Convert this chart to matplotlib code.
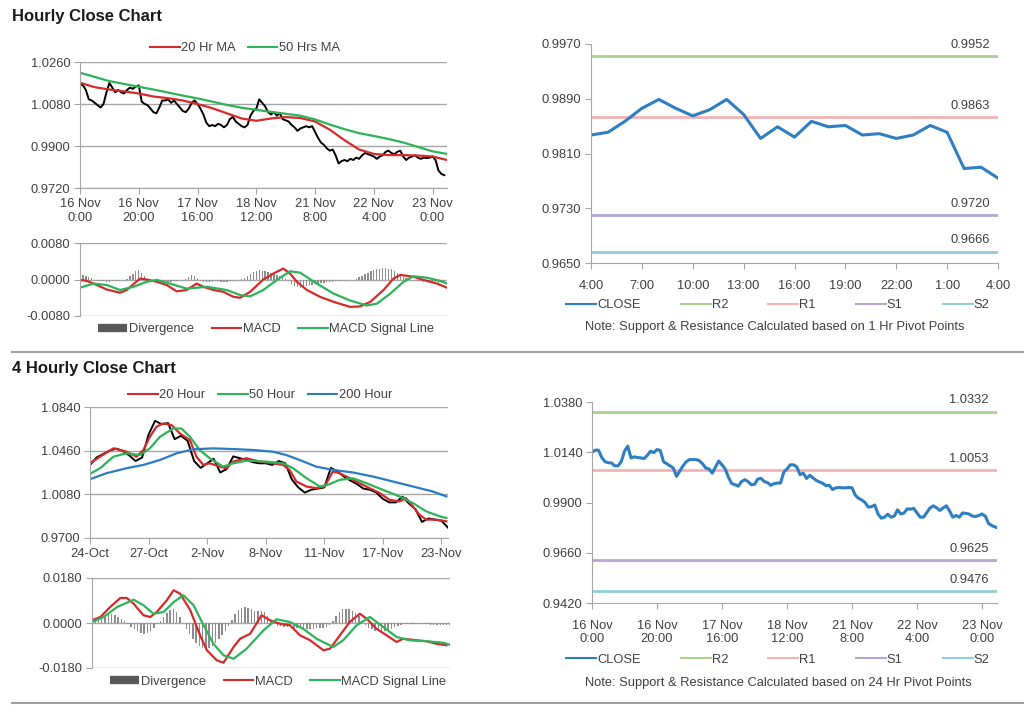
import matplotlib
matplotlib.use('Agg')
import matplotlib.pyplot as plt
from matplotlib.lines import Line2D

plt.rcParams['font.family'] = ['Liberation Sans', 'DejaVu Sans']
plt.rcParams['font.size'] = 9

# ---------------- data: hourly chart (top) ----------------
hourly_ticks = [0, 20, 40, 60, 80, 100, 120]
hourly_labels = ['16 Nov\n0:00', '16 Nov\n20:00', '17 Nov\n16:00', '18 Nov\n12:00',
                 '21 Nov\n8:00', '22 Nov\n4:00', '23 Nov\n0:00']

hourly_close = [
    1.0165, 1.0160, 1.0140, 1.0100, 1.0095, 1.0085, 1.0075, 1.0065, 1.0080, 1.0130,
    1.0170, 1.0150, 1.0130, 1.0140, 1.0130, 1.0125, 1.0140, 1.0150, 1.0145, 1.0155,
    1.0160, 1.0090, 1.0080, 1.0075, 1.0060, 1.0045, 1.0040, 1.0065, 1.0095, 1.0095,
    1.0100, 1.0085, 1.0095, 1.0080, 1.0065, 1.0050, 1.0045, 1.0060, 1.0085, 1.0095,
    1.0080, 1.0060, 1.0035, 1.0000, 0.9985, 0.9990, 0.9985, 0.9995, 0.9990, 0.9980,
    0.9990, 1.0015, 1.0025, 1.0005, 0.9995, 0.9985, 0.9980, 0.9990, 1.0030, 1.0050,
    1.0060, 1.0100, 1.0085, 1.0070, 1.0045, 1.0035, 1.0045, 1.0030, 1.0040, 1.0015,
    1.0010, 1.0005, 0.9990, 0.9980, 0.9965, 0.9975, 0.9980, 0.9985, 0.9980, 0.9985,
    0.9960, 0.9935, 0.9915, 0.9905, 0.9890, 0.9880, 0.9885, 0.9860, 0.9825, 0.9835,
    0.9840, 0.9835, 0.9845, 0.9840, 0.9850, 0.9845, 0.9860, 0.9870, 0.9865, 0.9860,
    0.9855, 0.9845, 0.9855, 0.9860, 0.9875, 0.9880, 0.9870, 0.9865, 0.9875, 0.9880,
    0.9855, 0.9840, 0.9850, 0.9855, 0.9860, 0.9850, 0.9845, 0.9850, 0.9848, 0.9850,
    0.9855, 0.9840, 0.9795, 0.9780, 0.9775]

ma_hours = [0, 5, 10, 15, 20, 25, 30, 35, 40, 45, 50, 55, 60, 65, 70, 75, 80, 85,
            90, 95, 100, 105, 110, 115, 120, 124.9]
ma20_hourly = [1.0171, 1.0152, 1.0142, 1.0134, 1.0125, 1.0112, 1.0105, 1.0095, 1.0080,
               1.0062, 1.0040, 1.0018, 1.0008, 1.0018, 1.0024, 1.0020, 1.0005, 0.9970,
               0.9925, 0.9885, 0.9866, 0.9861, 0.9861, 0.9859, 0.9855, 0.9840]
ma50_hourly = [1.0214, 1.0196, 1.0178, 1.0166, 1.0154, 1.0142, 1.0129, 1.0116, 1.0104,
               1.0090, 1.0076, 1.0064, 1.0055, 1.0046, 1.0038, 1.0030, 1.0014, 0.9992,
               0.9972, 0.9955, 0.9943, 0.9930, 0.9915, 0.9896, 0.9877, 0.9866]

div_hourly = [
    0.0008, 0.0009, 0.0007, 0.0005, 0.0004,
    -0.0002, -0.0003, -0.0004, -0.0004, -0.0005, -0.0005, -0.0004, -0.0004, -0.0003,
    -0.0002, -0.0001, 0.0002,
    0.0008, 0.0012, 0.0018, 0.0020, 0.0015, 0.0008,
    0.0002, -0.0002, -0.0004, -0.0005, -0.0006, -0.0007, -0.0006, -0.0005, -0.0005,
    -0.0004, -0.0003, -0.0002, -0.0001, 0.0002, 0.0005,
    0.0009, 0.0008, 0.0004,
    -0.0003, -0.0005, -0.0006, -0.0006, -0.0005, -0.0004, -0.0004, -0.0005, -0.0006,
    -0.0005, -0.0004, -0.0003, -0.0002, 0.0000, 0.0002, 0.0004,
    0.0008, 0.0013, 0.0017, 0.0019, 0.0020, 0.0019, 0.0018, 0.0016, 0.0014, 0.0012,
    0.0010, 0.0008, 0.0005, 0.0001,
    -0.0004, -0.0010, -0.0014, -0.0017, -0.0018, -0.0016, -0.0014, -0.0012, -0.0011,
    -0.0010, -0.0009, -0.0008, -0.0007, -0.0006,
    -0.0005, -0.0005, -0.0004, -0.0004, -0.0003, -0.0003, -0.0002, -0.0001, 0.0000,
    0.0002, 0.0005, 0.0008,
    0.0012, 0.0015, 0.0018, 0.0021, 0.0023, 0.0024, 0.0025, 0.0025, 0.0024, 0.0022,
    0.0019, 0.0015, 0.0010,
    0.0006, 0.0003, 0.0001, -0.0001, -0.0002, -0.0003, -0.0004, -0.0005, -0.0005,
    -0.0006, -0.0006, -0.0006, -0.0007, -0.0007, -0.0007]

macd_h_x = [0, 2.3, 5.7, 9.1, 13.6, 15.9, 20.4, 22.7, 26.1, 29.5, 32.9, 36.3, 39.7, 42,
            45.4, 48.8, 52.2, 54.5, 57.9, 62.4, 65.8, 69.2, 71.5, 73.8, 77.2, 81.7, 86.3,
            91.9, 95.3, 98.8, 103.3, 106.7, 109, 113.5, 116.9, 121.5, 124.9]
macd_h = [-0.0001, -0.0003, -0.0012, -0.0022, -0.0029, -0.0023, 0.0002, 0.0000, -0.0005,
          -0.0012, -0.0026, -0.0023, -0.0009, -0.0016, -0.0023, -0.0027, -0.0038, -0.0040,
          -0.0027, 0.0000, 0.0013, 0.0024, 0.0013, -0.0005, -0.0023, -0.0038, -0.0049,
          -0.0060, -0.0059, -0.0049, -0.0023, 0.0002, 0.0010, 0.0006, -0.0001, -0.0009,
          -0.0018]
signal_h_x = [0, 4.5, 9.1, 13.6, 18.2, 22.7, 26.1, 30.6, 36.3, 43.1, 49.9, 54.5, 57.9,
              62.4, 67, 71.5, 74.9, 80.6, 86.3, 91.9, 97.6, 101, 105.6, 110.1, 113.5, 118,
              122.6, 124.9]
signal_h = [-0.0018, -0.0009, -0.0012, -0.0023, -0.0016, -0.0005, -0.0001, -0.0009,
            -0.0020, -0.0016, -0.0023, -0.0034, -0.0037, -0.0023, -0.0001, 0.0018, 0.0015,
            -0.0009, -0.0031, -0.0046, -0.0057, -0.0053, -0.0031, -0.0005, 0.0007, 0.0004,
            -0.0003, -0.0009]

# 1 hr pivot chart
pivot1_labels = ['4:00', '7:00', '10:00', '13:00', '16:00', '19:00', '22:00', '1:00', '4:00']
pivot1_close = [0.9837, 0.9841, 0.9857, 0.9876, 0.9889, 0.9876, 0.9865, 0.9874, 0.9889,
                0.9867, 0.9832, 0.9849, 0.9834, 0.9857, 0.9849, 0.9851, 0.9837, 0.9839,
                0.9832, 0.9837, 0.9851, 0.9841, 0.9788, 0.9790, 0.9774]
pivot1_levels = {'R2': 0.9952, 'R1': 0.9863, 'S1': 0.9720, 'S2': 0.9666}

# ---------------- data: 4 hourly chart (bottom) ----------------
four_ticks = [0, 18, 36, 54, 72, 90, 108]
four_labels = ['24-Oct', '27-Oct', '2-Nov', '8-Nov', '11-Nov', '17-Nov', '23-Nov']

four_close = [
    1.0336, 1.0400, 1.0430, 1.0460, 1.0478, 1.0460, 1.0420, 1.0370, 1.0400, 1.0600,
    1.0720, 1.0690, 1.0700, 1.0560, 1.0590, 1.0545, 1.0370, 1.0310, 1.0350, 1.0390,
    1.0270, 1.0300, 1.0410, 1.0395, 1.0380, 1.0360, 1.0350, 1.0350, 1.0336, 1.0370,
    1.0350, 1.0210, 1.0140, 1.0095, 1.0120, 1.0130, 1.0140, 1.0310, 1.0280, 1.0235,
    1.0200, 1.0170, 1.0130, 1.0120, 1.0095, 1.0040, 1.0010, 1.0010, 1.0060, 1.0000,
    0.9950, 0.9840, 0.9870, 0.9860, 0.9850, 0.9790]

ma20_x = [0, 3.1, 7.2, 11.2, 14.3, 16.4, 18.4, 20.4, 22.5, 25.1, 27.6, 30.7, 32.7, 34.8,
          36.8, 39.9, 41.9, 44, 48.1, 52.1, 56.2, 59.3, 61.3, 63.4, 66.5, 69.5, 72.1,
          74.6, 76.7, 79.8, 82.8, 85.9, 89, 92, 95.1, 97.1, 99.2, 101.2, 103.3, 106.3, 109.5]
ma20_4h = [1.0350, 1.0408, 1.0480, 1.0451, 1.0408, 1.0466, 1.0581, 1.0668, 1.0697, 1.0682,
           1.0610, 1.0552, 1.0408, 1.0336, 1.0350, 1.0321, 1.0307, 1.0365, 1.0394, 1.0365,
           1.0350, 1.0336, 1.0293, 1.0192, 1.0148, 1.0134, 1.0148, 1.0278, 1.0264, 1.0220,
           1.0177, 1.0134, 1.0091, 1.0033, 1.0018, 1.0047, 0.9975, 0.9903, 0.9860, 0.9860,
           0.9845]
ma50_x = [0, 3.1, 7.2, 11.2, 15.3, 18.4, 21.5, 25.6, 28.1, 30.7, 33.7, 36.8, 40.9, 44,
          48.1, 54.2, 59.3, 62.4, 66.5, 70.6, 73.1, 76.7, 80.8, 84.9, 90, 95.1, 99.2,
          103.3, 107.4, 109.5]
ma50_4h = [1.0258, 1.0307, 1.0408, 1.0437, 1.0422, 1.0480, 1.0581, 1.0653, 1.0653, 1.0581,
           1.0466, 1.0394, 1.0321, 1.0350, 1.0373, 1.0365, 1.0350, 1.0307, 1.0221, 1.0148,
           1.0163, 1.0206, 1.0220, 1.0177, 1.0119, 1.0062, 1.0004, 0.9932, 0.9889, 0.9874]
ma200_x = [0, 5.1, 11.2, 16.4, 21.5, 26.6, 31.7, 37.8, 44, 50.1, 56.2, 60.3, 64.4, 69.5,
           74.6, 80.8, 86.9, 93, 99.2, 105.3, 109.5]
ma200_4h = [1.0212, 1.0264, 1.0307, 1.0336, 1.0379, 1.0437, 1.0472, 1.0480, 1.0474, 1.0466,
            1.0451, 1.0422, 1.0379, 1.0321, 1.0293, 1.0270, 1.0235, 1.0192, 1.0148, 1.0105,
            1.0062]

div_4h = [
    0.0005, 0.0012, 0.0018, 0.0024, 0.0030, 0.0035, 0.0037, 0.0033, 0.0026, 0.0018, 0.0008,
    -0.0005, -0.0015, -0.0025, -0.0033, -0.0040, -0.0042, -0.0038, -0.0030, -0.0018, -0.0005,
    0.0010, 0.0025, 0.0040, 0.0052, 0.0057, 0.0045, 0.0025,
    0.0000, -0.0025, -0.0045, -0.0062, -0.0078, -0.0090, -0.0100, -0.0103, -0.0098, -0.0090,
    -0.0080, -0.0065, -0.0048, -0.0030, -0.0010,
    0.0012, 0.0035, 0.0052, 0.0062, 0.0064, 0.0060, 0.0055, 0.0050, 0.0048, 0.0050, 0.0045,
    0.0030, 0.0010,
    -0.0005, -0.0010, -0.0012, -0.0014, -0.0015, -0.0017, -0.0018, -0.0020, -0.0021, -0.0022,
    -0.0022, -0.0023, -0.0022, -0.0021, -0.0020, -0.0018, -0.0014, -0.0008,
    0.0010, 0.0030, 0.0045, 0.0055, 0.0057, 0.0055, 0.0050, 0.0042, 0.0030,
    0.0010, -0.0008, -0.0018, -0.0025, -0.0030, -0.0032, -0.0032, -0.0030, -0.0026, -0.0022,
    -0.0016, -0.0010,
    -0.0006, -0.0004, -0.0003, -0.0002, -0.0003, -0.0004, -0.0004, -0.0005, -0.0005, -0.0006,
    -0.0006, -0.0007, -0.0007, -0.0008, -0.0008, -0.0008]

macd_4_x = [0, 2.6, 5.6, 8.7, 10.7, 12.8, 15.8, 17.9, 19.9, 23, 25.1, 27.1, 30.2, 33.2,
            35.3, 38.3, 40.4, 43.5, 45.5, 48.6, 52.1, 54.7, 57.8, 60.8, 63.9, 67, 71.1,
            73.1, 76.2, 79.2, 82.3, 84.4, 87.4, 90.5, 93.6, 95.6, 99.7, 102.8, 105.8, 108.9]
macd_4 = [0.0011, 0.0024, 0.0064, 0.0100, 0.0100, 0.0077, 0.0031, 0.0024, 0.0044, 0.0091,
          0.0131, 0.0117, 0.0051, -0.0049, -0.0109, -0.0149, -0.0159, -0.0096, -0.0063,
          -0.0043, 0.0031, 0.0011, -0.0003, -0.0009, -0.0049, -0.0069, -0.0109, -0.0103,
          -0.0049, 0.0004, 0.0037, 0.0017, -0.0023, -0.0049, -0.0076, -0.0063, -0.0069,
          -0.0073, -0.0083, -0.0089]
signal_4_x = [0, 3.6, 7.7, 12.8, 15.8, 18.9, 22, 25.1, 28.1, 31.2, 34.3, 37.3, 40.4, 43.5,
              47.5, 52.7, 56.7, 60.8, 64.9, 69, 74.1, 77.2, 81.3, 85.4, 89.5, 93.6, 97.6,
              102.8, 107.9, 109.9]
signal_4 = [0.0004, 0.0024, 0.0064, 0.0093, 0.0071, 0.0037, 0.0044, 0.0084, 0.0111, 0.0071,
            -0.0009, -0.0083, -0.0129, -0.0143, -0.0103, -0.0029, 0.0015, 0.0004, -0.0023,
            -0.0063, -0.0096, -0.0069, -0.0009, 0.0024, -0.0016, -0.0056, -0.0069, -0.0073,
            -0.0079, -0.0087]

# 24 hr pivot chart (hourly closes)
pivot24_close = [
    1.0140, 1.0150, 1.0150, 1.0115, 1.0095, 1.0090, 1.0089, 1.0075, 1.0075, 1.0095,
    1.0145, 1.0169, 1.0113, 1.0118, 1.0115, 1.0113, 1.0110, 1.0125, 1.0145, 1.0138,
    1.0153, 1.0148, 1.0095, 1.0085, 1.0075, 1.0065, 1.0025, 1.0050, 1.0075, 1.0095,
    1.0105, 1.0105, 1.0105, 1.0100, 1.0085, 1.0065, 1.0060, 1.0040, 1.0070, 1.0098,
    1.0080, 1.0060, 1.0020, 0.9990, 0.9985, 0.9978, 1.0000, 1.0009, 1.0000, 0.9985,
    0.9987, 1.0012, 1.0015, 1.0000, 0.9995, 0.9982, 0.9990, 0.9993, 0.9993, 1.0045,
    1.0060, 1.0080, 1.0080, 1.0070, 1.0033, 1.0040, 1.0015, 1.0030, 1.0018, 1.0005,
    0.9998, 0.9992, 0.9980, 0.9982, 0.9962, 0.9970, 0.9972, 0.9970, 0.9970, 0.9972,
    0.9970, 0.9935, 0.9920, 0.9912, 0.9900, 0.9878, 0.9880, 0.9888, 0.9845, 0.9825,
    0.9830, 0.9844, 0.9830, 0.9835, 0.9865, 0.9845, 0.9850, 0.9870, 0.9868, 0.9872,
    0.9850, 0.9830, 0.9830, 0.9852, 0.9874, 0.9884, 0.9875, 0.9862, 0.9874, 0.9884,
    0.9860, 0.9830, 0.9838, 0.9830, 0.9850, 0.9848, 0.9845, 0.9835, 0.9833, 0.9838,
    0.9845, 0.9835, 0.9800, 0.9790, 0.9783, 0.9777]
pivot24_levels = {'R2': 1.0332, 'R1': 1.0053, 'S1': 0.9625, 'S2': 0.9476}

# ---------------- style ----------------
W, H = 1024, 706
TXT = '#404040'
AXC = '#A6A6A6'
RED = '#D42A2A'
GREEN = '#2DB35A'
BLUE = '#2C7CC3'
CLOSE_BLUE = '#2E7EC1'
LEVEL_COLORS = {'R2': '#A9D18E', 'R1': '#F2B3B3', 'S1': '#B7A6D3', 'S2': '#92CDDC'}


def box(left, top, right, bottom):
    return [left / W, 1 - bottom / H, (right - left) / W, (bottom - top) / H]


def style(ax, grid=True):
    ax.spines['top'].set_visible(False)
    ax.spines['right'].set_visible(False)
    ax.spines['left'].set_color(AXC)
    ax.spines['bottom'].set_color(AXC)
    ax.tick_params(colors=AXC, labelcolor=TXT, labelsize=9.3, length=4, pad=3)
    if grid:
        ax.yaxis.grid(True, color=AXC, lw=1)
        ax.set_axisbelow(True)


def fig_legend(fig, handles, labels, cx, cy, spacing):
    fig.legend(handles, labels, loc='center', bbox_to_anchor=(cx / W, 1 - cy / H),
               ncol=len(labels), frameon=False, fontsize=9.3, handlelength=2.3,
               handletextpad=0.1, columnspacing=spacing, labelcolor=TXT,
               borderaxespad=0, borderpad=0)


def line(c, lw=1.5):
    return Line2D([0], [0], color=c, lw=lw)


div_handle = Line2D([0], [0], color='#595959', lw=6, solid_capstyle='butt')

fig = plt.figure(figsize=(10.24, 7.06), dpi=100)

# titles and separators
fig.text(12 / W, 1 - 16 / H, 'Hourly Close Chart', fontsize=12, fontweight='bold',
         va='center', ha='left', color='#1A1A1A')
fig.text(12 / W, 1 - 369 / H, '4 Hourly Close Chart', fontsize=12, fontweight='bold',
         va='center', ha='left', color='#1A1A1A')
for yy in (352, 703):
    fig.add_artist(Line2D([12 / W, 1], [1 - yy / H, 1 - yy / H], color='#A0A0A0', lw=1.5))

# ---- hourly price ----
ax = fig.add_axes(box(80, 62, 447, 188))
style(ax)
ax.plot(range(len(hourly_close)), hourly_close, color='black', lw=1.4)
ax.plot(ma_hours, ma20_hourly, color=RED, lw=1.6)
ax.plot(ma_hours, ma50_hourly, color=GREEN, lw=1.6)
ax.set_xlim(0, 124.9)
ax.set_ylim(0.9720, 1.0260)
ax.set_yticks([0.9720, 0.9900, 1.0080, 1.0260])
ax.set_yticklabels(['%.4f' % v for v in [0.9720, 0.9900, 1.0080, 1.0260]])
ax.set_xticks(hourly_ticks)
ax.set_xticklabels(hourly_labels)
fig_legend(fig, [line(RED), line(GREEN)], ['20 Hr MA', '50 Hrs MA'], 245, 48, 0.9)

# ---- hourly MACD ----
ax = fig.add_axes(box(80, 243, 447, 316))
style(ax)
ax.spines['bottom'].set_visible(False)
ax.bar(range(len(div_hourly)), div_hourly, width=0.45, color='#8C8C8C')
ax.plot(macd_h_x, macd_h, color=RED, lw=1.6)
ax.plot(signal_h_x, signal_h, color=GREEN, lw=1.6)
ax.set_xlim(0, 124.9)
ax.set_ylim(-0.008, 0.008)
ax.set_yticks([-0.008, 0, 0.008])
ax.set_yticklabels(['-0.0080', '0.0000', '0.0080'])
ax.set_xticks([])
fig_legend(fig, [div_handle, line(RED), line(GREEN)],
           ['Divergence', 'MACD', 'MACD Signal Line'], 266, 329, 1.4)

# ---- 1 hr pivot ----
ax = fig.add_axes(box(591, 44, 998, 263))
style(ax, grid=False)
ax.set_xlim(0, 24)
ax.set_ylim(0.9650, 0.9970)
for name, lv in pivot1_levels.items():
    ax.axhline(lv, color=LEVEL_COLORS[name], lw=2)
    ax.annotate('%.4f' % lv, (24, lv), xytext=(-6, 4), textcoords='offset points',
                ha='right', va='bottom', color=TXT, fontsize=9.3)
ax.plot(range(len(pivot1_close)), pivot1_close, color=CLOSE_BLUE, lw=2.2)
ax.set_yticks([0.9650, 0.9730, 0.9810, 0.9890, 0.9970])
ax.set_yticklabels(['%.4f' % v for v in [0.9650, 0.9730, 0.9810, 0.9890, 0.9970]])
ax.set_xticks(range(0, 25, 3))
ax.set_xticklabels(pivot1_labels)
ax.tick_params(axis='x', pad=8)
fig_legend(fig, [line(CLOSE_BLUE)] + [line(LEVEL_COLORS[k]) for k in pivot1_levels],
           ['CLOSE'] + list(pivot1_levels), 778, 305, 3.1)
fig.text(775 / W, 1 - 327 / H, 'Note: Support & Resistance Calculated based on 1 Hr Pivot Points',
         ha='center', va='center', fontsize=9.3, color=TXT)

# ---- 4 hourly price ----
ax = fig.add_axes(box(90, 407, 448, 538))
style(ax)
ax.plot(range(0, 2 * len(four_close), 2), four_close, color='black', lw=1.4)
ax.plot(ma20_x, ma20_4h, color=RED, lw=1.6)
ax.plot(ma50_x, ma50_4h, color=GREEN, lw=1.6)
ax.plot(ma200_x, ma200_4h, color=BLUE, lw=1.6)
ax.set_xlim(0, 110)
ax.set_ylim(0.9700, 1.0840)
ax.set_yticks([0.9700, 1.0080, 1.0460, 1.0840])
ax.set_yticklabels(['%.4f' % v for v in [0.9700, 1.0080, 1.0460, 1.0840]])
ax.set_xticks(four_ticks)
ax.set_xticklabels(four_labels)
fig_legend(fig, [line(RED), line(GREEN), line(BLUE)],
           ['20 Hour', '50 Hour', '200 Hour'], 260, 395, 1.0)

# ---- 4 hourly MACD ----
ax = fig.add_axes(box(92, 578, 450, 668))
style(ax)
ax.spines['bottom'].set_visible(False)
ax.bar(range(len(div_4h)), div_4h, width=0.45, color='#8C8C8C')
ax.plot(macd_4_x, macd_4, color=RED, lw=1.6)
ax.plot(signal_4_x, signal_4, color=GREEN, lw=1.6)
ax.set_xlim(0, 110)
ax.set_ylim(-0.018, 0.018)
ax.set_yticks([-0.018, 0, 0.018])
ax.set_yticklabels(['-0.0180', '0.0000', '0.0180'])
ax.set_xticks([])
fig_legend(fig, [div_handle, line(RED), line(GREEN)],
           ['Divergence', 'MACD', 'MACD Signal Line'], 278, 682, 1.4)

# ---- 24 hr pivot ----
ax = fig.add_axes(box(592, 402, 997, 603))
style(ax, grid=False)
ax.set_xlim(0, 124.6)
ax.set_ylim(0.9420, 1.0380)
for name, lv in pivot24_levels.items():
    ax.axhline(lv, color=LEVEL_COLORS[name], lw=2)
    ax.annotate('%.4f' % lv, (124.6, lv), xytext=(-6, 4), textcoords='offset points',
                ha='right', va='bottom', color=TXT, fontsize=9.3)
ax.plot(range(len(pivot24_close)), pivot24_close, color=CLOSE_BLUE, lw=2.2)
ax.set_yticks([0.9420, 0.9660, 0.9900, 1.0140, 1.0380])
ax.set_yticklabels(['%.4f' % v for v in [0.9420, 0.9660, 0.9900, 1.0140, 1.0380]])
ax.set_xticks(hourly_ticks)
ax.set_xticklabels(hourly_labels)
ax.tick_params(axis='x', pad=8)
fig_legend(fig, [line(CLOSE_BLUE)] + [line(LEVEL_COLORS[k]) for k in pivot24_levels],
           ['CLOSE'] + list(pivot24_levels), 778, 660, 3.1)
fig.text(778 / W, 1 - 683 / H, 'Note: Support & Resistance Calculated based on 24 Hr Pivot Points',
         ha='center', va='center', fontsize=9.3, color=TXT)

fig.savefig('out.png', dpi=100)
